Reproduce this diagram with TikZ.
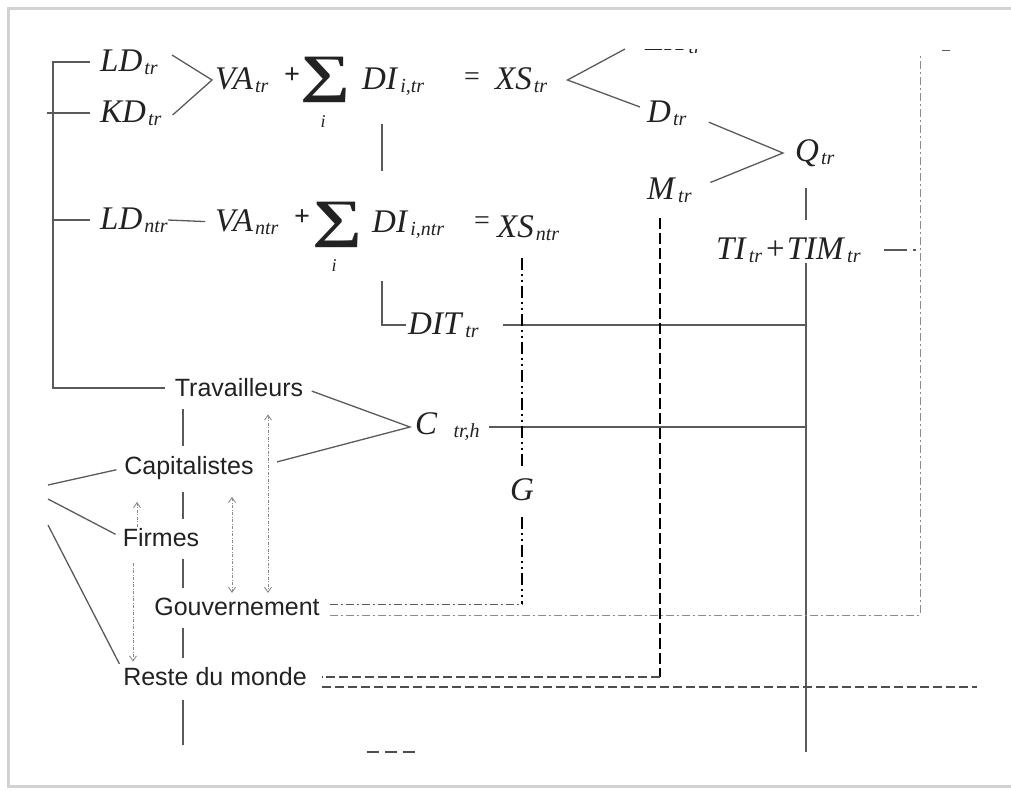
\documentclass[tikz,border=0pt]{standalone}
\usepackage{fontspec}
\setmainfont{Liberation Serif}
\setsansfont{Liberation Sans}
\usetikzlibrary{arrows.meta,positioning}
\definecolor{ink}{HTML}{222222}
\definecolor{wire}{HTML}{5A5A5A}
\definecolor{rim}{HTML}{D2D2D2}
\definecolor{faint}{HTML}{8A8A8A}
\newcommand{\varsub}[2]{\textit{#1}\hspace{2pt}\raisebox{-3pt}{\fontsize{20}{20}\selectfont\textit{#2}}}
\newcommand{\bigsum}{\scalebox{1.4}[1.05]{\textbf{∑}}}

\begin{document}
\begin{tikzpicture}[
  x=1pt,y=-1pt,
  >={Straight Barb[length=5pt,width=7pt]},
  eqn/.style={font=\fontsize{33}{33}\selectfont,text=ink,inner sep=0pt,anchor=west},
  sumsign/.style={font=\fontsize{50}{50}\selectfont,text=ink,inner sep=0pt},
  index/.style={font=\fontsize{18}{18}\selectfont\itshape,text=ink,inner sep=0pt},
  sign/.style={font=\fontsize{28}{28}\selectfont,text=ink,inner sep=0pt},
  agent/.style={font=\sffamily\fontsize{25}{25}\selectfont,text=ink,inner sep=0pt},
  link/.style={draw=wire,line width=1.3pt},
  flowarrow/.style={draw=faint,line width=0.9pt,dash pattern=on 3pt off 1.5pt on 1pt off 1.5pt,->},
  twoway/.style={flowarrow,<->},
  gline/.style={draw=black,line width=2.2pt,dash pattern=on 12pt off 4pt on 2pt off 4pt on 2pt off 4pt},
  mline/.style={draw=black,line width=2.6pt,dash pattern=on 11pt off 4pt},
  govline/.style={draw=faint,line width=1pt,dash pattern=on 8pt off 3pt on 2pt off 3pt},
  restline/.style={draw=ink!80,line width=1.1pt,dash pattern=on 9pt off 4pt}
]
\useasboundingbox (0,0) rectangle (1011,790);
% frame of the screenshot
\draw[rim,line width=3pt] (1011,8) -- (8,8) -- (8,786) -- (1011,786);

% columns
\coordinate (brk) at (53,0);
\coordinate (dcol) at (382,0);
\coordinate (tcol) at (806,0);
\coordinate (rcol) at (920,0);
\coordinate (mcol) at (660,0);
\coordinate (vcol) at (183,0);

% tradable branch
\node[eqn] (ldtr) at (100,62) {\varsub{LD}{tr}};
\node[eqn] (kdtr) at (100,113) {\varsub{KD}{tr}};
\node[eqn] (vatr) at (215,80) {\varsub{VA}{tr}};
\node[sign] (plus1) at (292,76) {\textbf{+}};
\node[sumsign] (sum1) at (325,80) {\bigsum};
\node[index] (i1) at (323,122) {i};
\node[eqn] (ditr) at (362,82) {\varsub{DI}{i,tr}};
\node[sign] (eq1) at (472,79) {=};
\node[eqn] (xstr) at (495,80) {\varsub{XS}{tr}};
\begin{scope}
  \clip (600,49.8) rectangle (720,62);
  \node[eqn] (extr) at (645,41.6) {\varsub{EX}{tr}};
\end{scope}
\node[eqn] (dtr) at (647,113) {\varsub{D}{tr}};
\node[eqn] (mtr) at (647,190) {\varsub{M}{tr}};
\node[eqn] (qtr) at (795,153) {\varsub{Q}{tr}};
\node[eqn] (titim) at (716,250) {\varsub{TI}{tr}\hspace{4pt}+\hspace{2pt}\varsub{TIM}{tr}};

% non-tradable branch
\node[eqn] (ldntr) at (100,220) {\varsub{LD}{ntr}};
\node[eqn] (vantr) at (215,222) {\varsub{VA}{ntr}};
\node[sign] (plus2) at (302,218) {\textbf{+}};
\node[sumsign] (sum2) at (337,225) {\bigsum};
\node[index] (i2) at (334,266) {i};
\node[eqn] (dintr) at (372,225) {\varsub{DI}{i,ntr}};
\node[sign] (eq2) at (482,223) {=};
\node[eqn] (xsntr) at (497,228) {\varsub{XS}{ntr}};
\node[eqn] (dittr) at (408,325) {\varsub{DIT}{tr}};
\node[eqn] (ctrh) at (415,427) {\varsub{C\hspace{14pt}}{tr,h}};
\node[eqn,anchor=center] (gG) at (522,490) {\textit{G}};

% agents
\node[agent] (trav) at (239,388) {Travailleurs};
\node[agent] (capi) at (189,468) {Capitalistes};
\node[agent] (firm) at (161,538) {Firmes};
\node[agent] (gouv) at (237,607) {Gouvernement};
\node[agent] (reste) at (215,677) {Reste du monde};

% left bracket
\draw[link] ([xshift=-10pt]ldtr.west) -| (brk |- trav.west) -- ([xshift=-10pt]trav.west);
\draw[link] ([xshift=-10pt]kdtr.west) -- ([xshift=-6pt]kdtr.west -| brk);
\draw[link] ([xshift=-10pt]ldntr.west) -- (ldntr.west -| brk);
\draw[link] ([xshift=14pt,yshift=7pt]ldtr.east) -- ([xshift=-3pt]vatr.west) -- ([xshift=11pt,yshift=-2pt]kdtr.east);
\draw[link,shorten >=10pt] (ldntr.east) -- (vantr.west);

% intermediate demand
\draw[link,shorten <=28pt,shorten >=40pt] (ditr.south -| dcol) -- (dintr.north -| dcol);
\draw[link,shorten <=42pt] (dintr.south -| dcol) |- ([xshift=-2pt]dittr.west);
\draw[link,shorten <=24pt] (dittr.east) -- (dittr.east -| tcol);
\draw[link,shorten <=9pt] (ctrh.east) -- (ctrh.east -| tcol);
\coordinate (tend) at (806,752);
\draw[link] (titim.south -| tcol) -- (tend);
\draw[link,shorten <=21pt,shorten >=17pt] (qtr.south -| tcol) -- (titim.north -| tcol);

% supply split and composite good
\coordinate (xsfork) at ([xshift=20pt]xstr.east);
\coordinate (exfoot) at (625,49);
\draw[link] (exfoot) -- (xsfork) -- ([xshift=-7pt,yshift=6pt]dtr.west);
\coordinate (qfork) at ([xshift=-12pt]qtr.west);
\draw[link,shorten <=24pt,shorten >=20pt] (dtr.east) -- (qfork) -- (mtr.east);

% taxes to the right column
\draw[link,dash pattern=on 23pt off 6pt on 3pt off 10pt,shorten <=23pt] (titim.east) -- (titim.east -| rcol);
\coordinate (rtop) at (920,55);
\draw[govline] ([xshift=10pt,yshift=-8pt]gouv.east) -| (rtop);
\coordinate (tick) at (942,50);
\draw[link,line width=1pt] (tick) -- ++(8,0);

% government demand
\draw[gline,shorten <=17pt,shorten >=12pt] (xsntr.south -| gG.north) -- (gG.north);
\draw[gline,shorten <=16pt] (gG.south) -- ([yshift=3pt]gouv.east -| gG.south);
\draw[govline,draw=wire] ([xshift=10pt,yshift=3pt]gouv.east) -- ([yshift=3pt]gouv.east -| gG.south);

% imports and rest of the world
\draw[mline,shorten <=15pt] (mtr.south -| mcol) -- (mcol |- reste.east);
\draw[restline] (mcol |- reste.east) -- ([xshift=15pt]reste.east);
\coordinate (rend) at (977,687);
\draw[restline] ([xshift=15pt,yshift=-10pt]reste.east) -- (rend);
\coordinate (stub) at (367,752);
\draw[restline,dash pattern=on 12pt off 6pt] (stub) -- ++(51,0);

% consumption
\coordinate (cfork) at ([xshift=-5pt]ctrh.west);
\draw[link,shorten <=9pt,shorten >=24pt] (trav.east) -- (cfork) -- (capi.east);

% left fork to the agents
\coordinate (lfork) at (48,499);
\draw[link,shorten >=8pt] ([yshift=14pt]lfork) -- (capi.west);
\draw[link,shorten >=8pt] (lfork) -- (firm.west);
\draw[link,shorten >=8pt] ([yshift=-26pt]lfork) -- ([yshift=6pt]reste.west);

% agent spine
\foreach \a/\b in {trav/capi,capi/firm,firm/gouv,gouv/reste}
  \draw[link,shorten <=12pt,shorten >=10pt] (\a.south -| vcol) -- (\b.north -| vcol);
\coordinate (vend) at (183,745);
\draw[link,shorten <=14pt] (reste.south -| vcol) -- (vend);

% transfers
\coordinate (acol1) at (137,0);
\coordinate (acol2) at (133,0);
\coordinate (acol3) at (232,0);
\coordinate (acol4) at (268,0);
\draw[flowarrow,shorten <=2pt,shorten >=22pt] (firm.north -| acol1) -- (capi.south -| acol1);
\draw[flowarrow,shorten <=16pt,shorten >=6pt] (firm.south -| acol2) -- (reste.north -| acol2);
\draw[twoway,shorten <=17pt,shorten >=5pt] (capi.south -| acol3) -- (gouv.north -| acol3);
\draw[twoway,shorten <=17pt,shorten >=5pt] (trav.south -| acol4) -- (gouv.north -| acol4);
\end{tikzpicture}
\end{document}
